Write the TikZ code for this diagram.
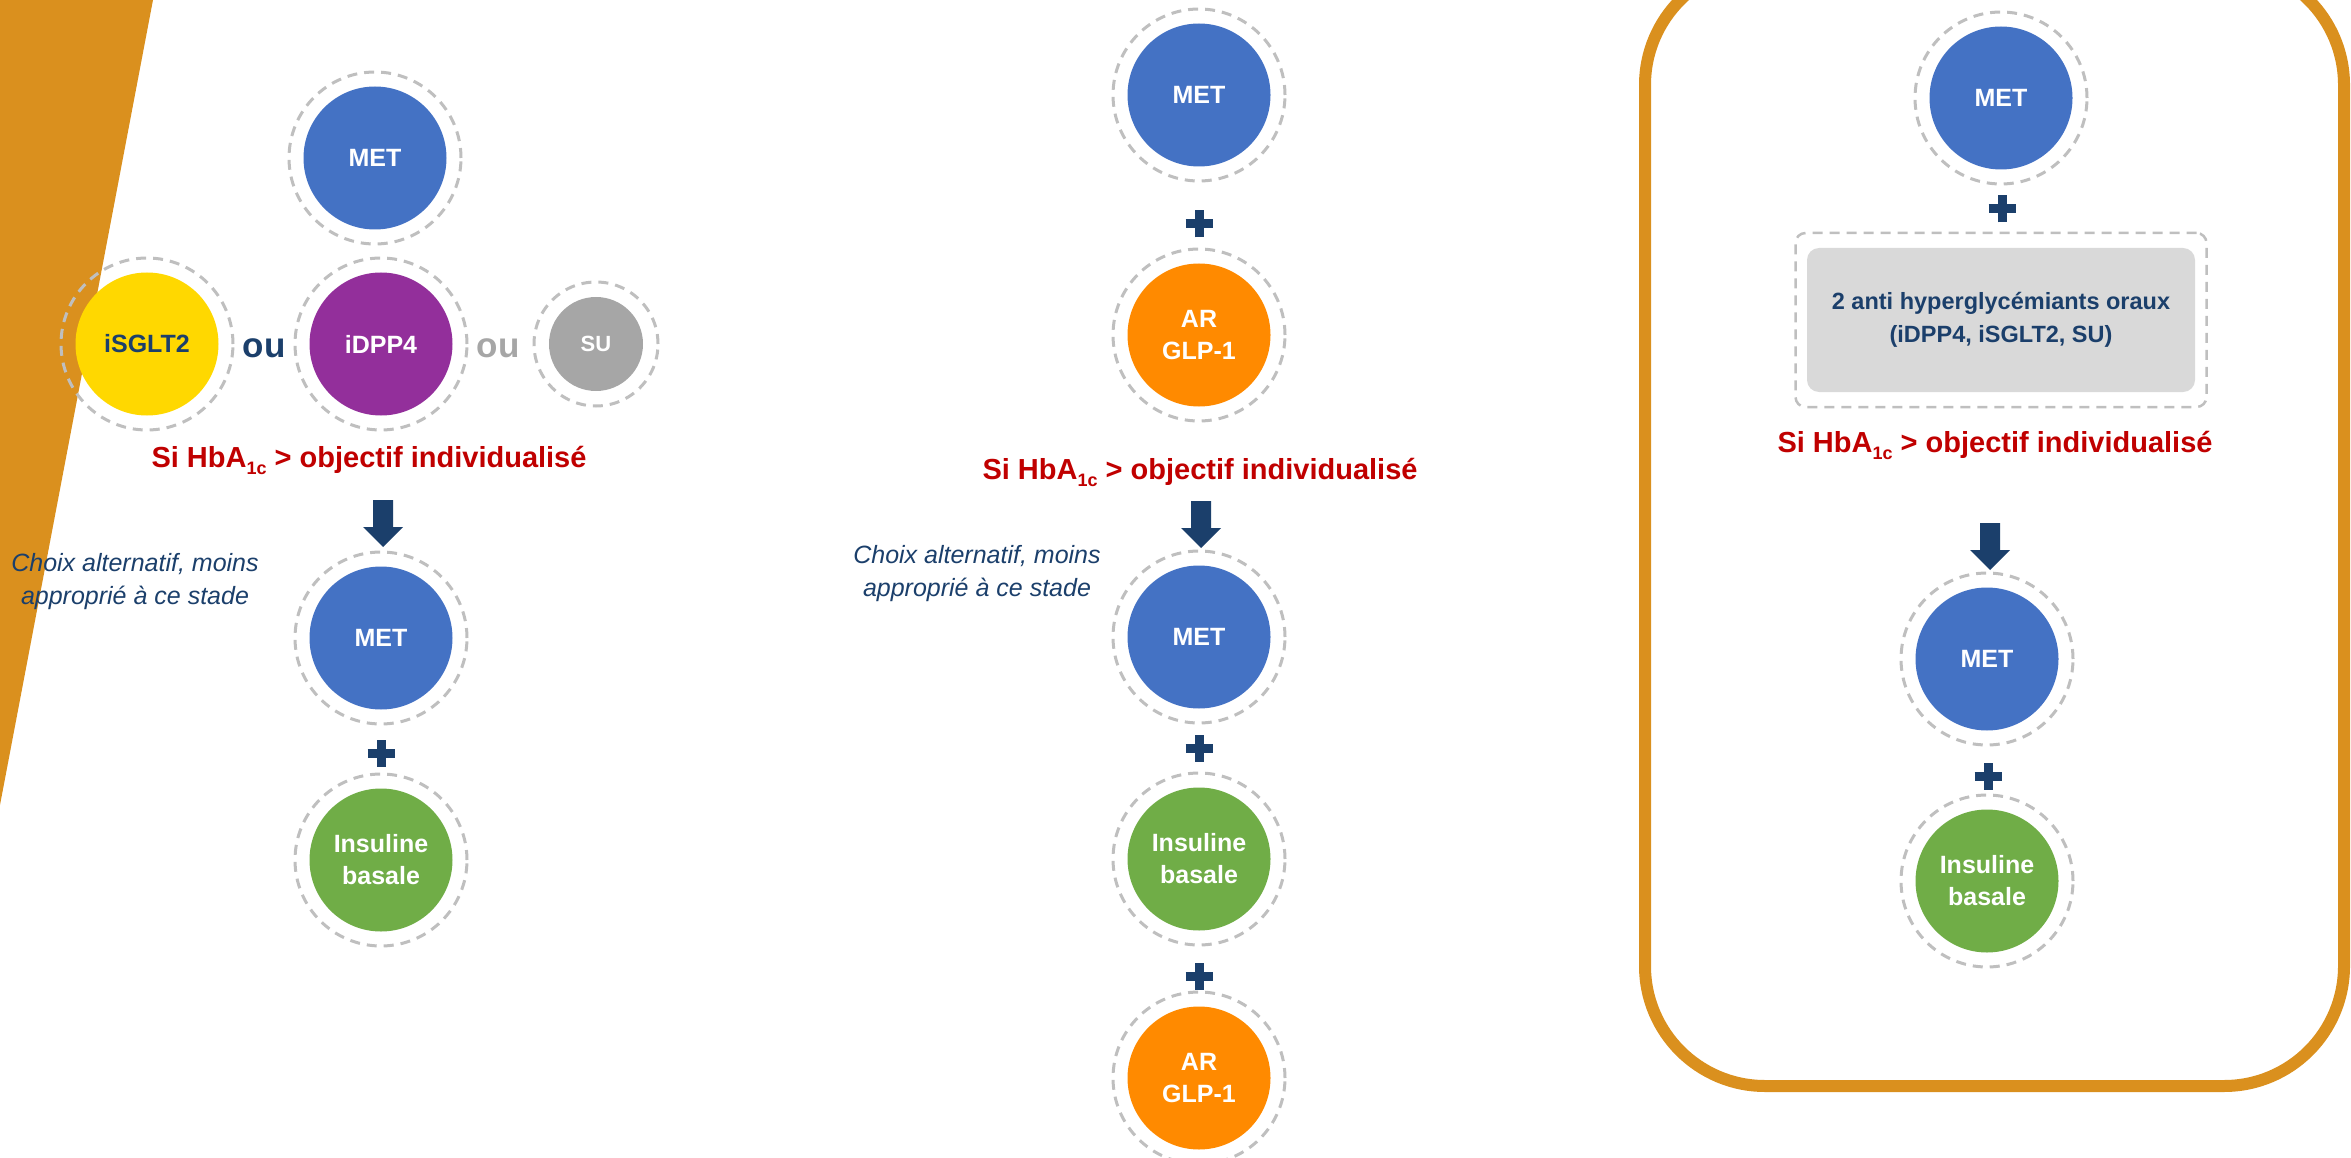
\documentclass[tikz,border=0pt]{standalone}
\usepackage{fontspec}
\setmainfont{Liberation Sans}
\usetikzlibrary{calc}

\definecolor{metblue}{HTML}{4472C4}
\definecolor{glporange}{HTML}{FF8A00}
\definecolor{insgreen}{HTML}{70AD47}
\definecolor{sgltyellow}{HTML}{FFD800}
\definecolor{dpppurple}{HTML}{932F9B}
\definecolor{sugrey}{HTML}{A6A6A6}
\definecolor{ringgrey}{HTML}{BFBFBF}
\definecolor{navy}{HTML}{1B3F6B}
\definecolor{alertred}{HTML}{C00000}
\definecolor{frameorange}{HTML}{DA901E}
\definecolor{boxgrey}{HTML}{D9D9D9}

\tikzset{
  drug/.style={circle, minimum size=143pt, inner sep=0pt, text=white,
    font=\bfseries\fontsize{25}{32}\selectfont, align=center},
  smalldrug/.style={drug, minimum size=94pt, font=\bfseries\fontsize{22}{26}\selectfont},
  ring/.style={draw=ringgrey, line width=3pt, dash pattern=on 10pt off 7pt},
  cond/.style={text=alertred, font=\bfseries\fontsize{29}{34}\selectfont, anchor=base, inner sep=0pt},
  note/.style={text=navy, font=\itshape\fontsize{25}{33}\selectfont, align=center, inner sep=0pt},
  orword/.style={font=\bfseries\fontsize{35}{40}\selectfont, anchor=base, inner sep=0pt},
  plussign/.style={draw=navy, line width=9pt},
  blockarrow/.style={fill=navy},
}
\newcommand\lowered[1]{\raisebox{-7pt}{\fontsize{18}{18}\selectfont #1}}
\newcommand\plusat[1]{\draw[plussign] ([xshift=-13.5pt]#1) -- ([xshift=13.5pt]#1)
  ([yshift=-13.5pt]#1) -- ([yshift=13.5pt]#1);}
\newcommand\arrowat[1]{\fill[blockarrow] (#1) ++(-10,0) -- ++(20,0) -- ++(0,27) -- ++(10,0)
  -- ++(-20,20) -- ++(-20,-20) -- ++(10,0) -- cycle;}

\begin{document}
\begin{tikzpicture}[x=1pt, y=-1pt]
\useasboundingbox (0,0) rectangle (2351,1158);
\clip (0,0) rectangle (2351,1158);

% corner band
\fill[frameorange] (0,0) -- (153,0) -- (0,805) -- cycle;

% ---------------- first column ----------------
\node[drug, fill=metblue] (metA) at (375,158) {MET};
\node[drug, fill=sgltyellow, text=navy] (sglt) at (147,344) {iSGLT2};
\node[drug, fill=dpppurple] (dpp) at (381,344) {iDPP4};
\node[smalldrug, fill=sugrey] (su) at (596,344) {SU};
\foreach \n in {metA, sglt, dpp} \draw[ring] (\n.center) circle[radius=86pt];
\draw[ring] (su.center) circle[radius=62pt];
\node[orword, text=navy] (ouA) at (264,358) {ou};
\node[orword, text=sugrey] (ouB) at (498,358) {ou};
\node[cond] (condA) at (369,467) {Si HbA\lowered{1c} > objectif individualisé};
\coordinate (arrA) at (383,500);
\arrowat{arrA}
\node[note] (noteA) at (135,582) {Choix alternatif, moins\\approprié à ce stade};
\node[drug, fill=metblue] (metB) at (381,638) {MET};
\coordinate (plusA) at (381,753);
\plusat{plusA}
\node[drug, fill=insgreen] (insA) at (381,860) {Insuline\\basale};
\foreach \n in {metB, insA} \draw[ring] (\n.center) circle[radius=86pt];

% ---------------- second column ----------------
\node[drug, fill=metblue] (metC) at (1199,95) {MET};
\coordinate (plusB) at (1199,224);
\plusat{plusB}
\node[drug, fill=glporange] (glpA) at (1199,335) {AR\\GLP-1};
\node[cond] (condB) at (1200,479) {Si HbA\lowered{1c} > objectif individualisé};
\coordinate (arrB) at (1201,501);
\arrowat{arrB}
\node[note] (noteB) at (977,574) {Choix alternatif, moins\\approprié à ce stade};
\node[drug, fill=metblue] (metD) at (1199,637) {MET};
\coordinate (plusC) at (1199,748);
\plusat{plusC}
\node[drug, fill=insgreen] (insB) at (1199,859) {Insuline\\basale};
\coordinate (plusD) at (1199,976);
\plusat{plusD}
\node[drug, fill=glporange] (glpB) at (1199,1078) {AR\\GLP-1};
\foreach \n in {metC, glpA, metD, insB, glpB} \draw[ring] (\n.center) circle[radius=86pt];

% ---------------- third column (framed) ----------------
\draw[frameorange, line width=12pt, rounded corners=120pt] (1645,-35) rectangle (2344,1086);
\node[drug, fill=metblue] (metE) at (2001,98) {MET};
\coordinate (plusE) at (2002,209);
\plusat{plusE}
\node[fill=boxgrey, rounded corners=12pt, minimum width=388pt, minimum height=144pt,
  inner sep=0pt, text=navy, font=\bfseries\fontsize{23.5}{33}\selectfont, align=center]
  (oral) at (2001,320) {2 anti hyperglycémiants oraux\\(iDPP4, iSGLT2, SU)};
\node[ring, line width=2.5pt, rounded corners=10pt, minimum width=411pt, minimum height=174pt]
  (oralring) at (oral.center) {};
\node[cond] (condC) at (1995,452) {Si HbA\lowered{1c} > objectif individualisé};
\coordinate (arrC) at (1990,523);
\arrowat{arrC}
\node[drug, fill=metblue] (metF) at (1987,659) {MET};
\coordinate (plusF) at (1988,776);
\plusat{plusF}
\node[drug, fill=insgreen] (insC) at (1987,881) {Insuline\\basale};
\foreach \n in {metE, metF, insC} \draw[ring] (\n.center) circle[radius=86pt];
\end{tikzpicture}
\end{document}
